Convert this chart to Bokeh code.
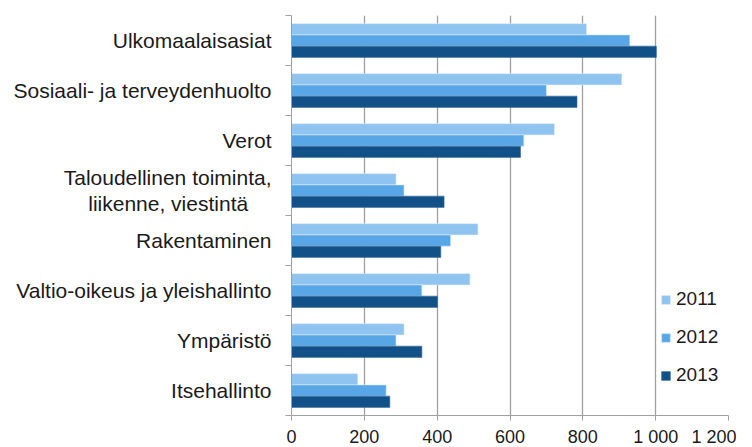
from bokeh.plotting import figure
from bokeh.models import ColumnDataSource, Range1d, FixedTicker, Legend, LegendItem
from bokeh.transform import dodge
from bokeh.embed import file_html
from bokeh.resources import INLINE

NB = "\u00a0"
categories = [
    "Ulkomaalaisasiat",
    "Sosiaali- ja terveydenhuolto",
    "Verot",
    "Taloudellinen toiminta,\nliikenne, viestintä" + NB * 4,
    "Rakentaminen",
    "Valtio-oikeus ja yleishallinto",
    "Ympäristö",
    "Itsehallinto",
]
v2011 = [810, 907, 722, 287, 512, 490, 309, 182]
v2012 = [929, 700, 638, 309, 437, 358, 287, 260]
v2013 = [1002, 784, 629, 419, 410, 401, 358, 270]
years = ["2011", "2012", "2013"]
colors = ["#8FC3F0", "#58A6E6", "#125088"]
x_ticks = [0, 200, 400, 600, 800, 1000, 1200]
x_tick_labels = ["0", "200", "400", "600", "800", "1 000", "1 200"]

n = len(categories)
ypos = [n - i - 0.5 for i in range(n)]
src = ColumnDataSource(dict(y=ypos, v2011=v2011, v2012=v2012, v2013=v2013))

FONT = "Liberation Sans"

p = figure(width=736, height=449, output_backend="svg", toolbar_location=None,
           x_range=Range1d(0, 1200), y_range=Range1d(0, n),
           min_border_left=291, min_border_right=8, min_border_top=15, min_border_bottom=22)
p.outline_line_color = None
p.background_fill_color = "white"
p.border_fill_color = "white"

offsets = [0.225, 0.0, -0.225]
renderers = []
for yr, col, off in zip(years, colors, offsets):
    r = p.hbar(y=dodge("y", off, range=p.y_range), right="v" + yr, left=0, height=0.225,
               source=src, fill_color=col, line_color="#DCEBF8" if yr != "2013" else "#3C6E9E",
               line_width=0.6)
    renderers.append(r)

# x axis
p.xaxis.axis_label = None
p.xaxis.ticker = FixedTicker(ticks=x_ticks)
p.xaxis.major_label_overrides = {t: l for t, l in zip(x_ticks, x_tick_labels)}
p.xaxis.major_label_text_font = FONT
p.xaxis.major_label_text_font_size = "18px"
p.xaxis.major_label_text_line_height = 1.0
p.xaxis.major_label_text_color = "#1a1a1a"
p.xaxis.axis_line_color = "#A0A0A0"
p.xaxis.major_tick_line_color = "#A0A0A0"
p.xaxis.major_tick_out = 5
p.xaxis.major_tick_in = 0
p.xaxis.minor_tick_line_color = None
p.xaxis.minor_tick_out = 0
p.xaxis.minor_tick_in = 0
p.xaxis.major_label_standoff = 6
p.xaxis.axis_label_standoff = 0

p.xgrid.ticker = FixedTicker(ticks=x_ticks)
p.xgrid.grid_line_color = "#A0A0A0"
p.xgrid.grid_line_width = 1.3
p.ygrid.grid_line_color = None

# y axis
p.yaxis.axis_label = None
p.yaxis.ticker = FixedTicker(ticks=ypos, minor_ticks=list(range(n + 1)))
p.yaxis.major_label_overrides = {y: c for y, c in zip(ypos, categories)}
p.yaxis.major_label_text_font = FONT
p.yaxis.major_label_text_font_size = "21px"
p.yaxis.major_label_text_line_height = 1.1
p.yaxis.major_label_text_color = "#1a1a1a"
p.yaxis.major_tick_line_color = None
p.yaxis.major_tick_out = 0
p.yaxis.major_tick_in = 0
p.yaxis.major_label_standoff = 14
p.yaxis.axis_line_color = "#A0A0A0"
p.yaxis.minor_tick_line_color = "#A0A0A0"
p.yaxis.minor_tick_out = 6
p.yaxis.minor_tick_in = 0

legend = Legend(items=[LegendItem(label=yr, renderers=[r]) for yr, r in zip(years, renderers)],
                location=(369, 29), orientation="vertical")
legend.background_fill_alpha = 0
legend.border_line_color = None
legend.padding = 0
legend.margin = 0
legend.glyph_width = 11
legend.glyph_height = 11
legend.label_standoff = 5
legend.spacing = 16
legend.label_text_font = FONT
legend.label_text_font_size = "19px"
legend.label_text_color = "#1a1a1a"
p.add_layout(legend)

open("out.html", "w").write(file_html(p, INLINE))
